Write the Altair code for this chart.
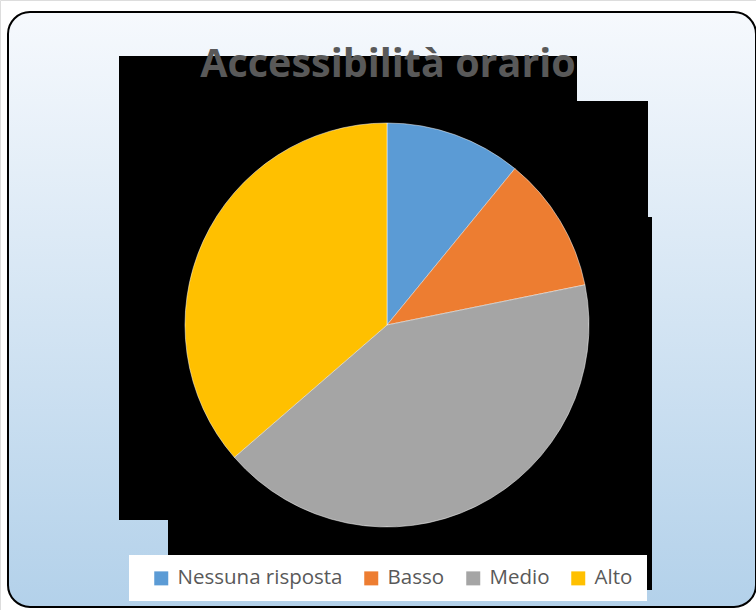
import altair as alt
import pandas as pd

categories = ["Nessuna risposta", "Basso", "Medio", "Alto"]
values = [6, 6, 23, 20]
colors = ["#5b9bd5", "#ed7d31", "#a5a5a5", "#ffc000"]
title_text = "Accessibilità orario"

df = pd.DataFrame({"categoria": categories, "valore": values, "ordine": list(range(len(categories)))})
one = pd.DataFrame({"k": [0]})

W, H = 756, 610

bg = alt.Chart(one).mark_rect(
    color=alt.LinearGradient(
        gradient="linear", x1=0, y1=0, x2=0, y2=1,
        stops=[alt.GradientStop(color="#f6f9fd", offset=0),
               alt.GradientStop(color="#b3d1ea", offset=1)]),
    stroke="#000000", strokeWidth=2, cornerRadius=22
).encode(x=alt.value(8), x2=alt.value(756), y=alt.value(12), y2=alt.value(607))

def box(x1, x2, y1, y2, c):
    return alt.Chart(one).mark_rect(color=c).encode(
        x=alt.value(x1), x2=alt.value(x2), y=alt.value(y1), y2=alt.value(y2))

blacks = [box(119, 577, 56, 101, "#000000"), box(119, 648, 101, 217, "#000000"),
          box(119, 652, 217, 520, "#000000"), box(168, 652, 520, 590, "#000000")]
legend_box = box(129, 647, 555, 601, "#ffffff")

pie = alt.Chart(df).mark_arc(outerRadius=202, stroke="#ffffff", strokeWidth=0.5).encode(
    theta=alt.Theta("valore:Q", stack=True),
    order=alt.Order("ordine:Q"),
    color=alt.Color("categoria:N",
                    scale=alt.Scale(domain=categories, range=colors),
                    sort=categories,
                    legend=alt.Legend(
                        title=None, orient="none", legendX=151, legendY=568,
                        direction="horizontal", padding=0,
                        symbolType="square", symbolSize=196,
                        symbolStrokeWidth=0, labelFontSize=20.5,
                        labelFont="Open Sans", labelColor="#595959",
                        columnPadding=18, labelOffset=6, labelLimit=300)),
    x=alt.value(387), y=alt.value(325)
)

title = alt.Chart(one).mark_text(
    text=title_text, font="Open Sans", fontSize=39.5, fontWeight="bold",
    color="#595959", align="center", baseline="alphabetic"
).encode(x=alt.value(388), y=alt.value(77))

chart = alt.layer(bg, *blacks, legend_box, pie, title).properties(
    width=W, height=H, padding=0, autosize=alt.AutoSizeParams(type="none")
).configure_view(stroke=None).configure(background="#ffffff")

chart.save("out.html", embed_options={"renderer": "svg", "actions": False})
